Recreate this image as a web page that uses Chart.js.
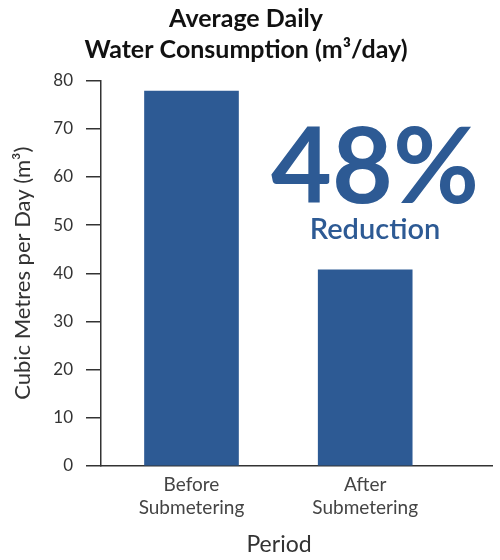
<!DOCTYPE html>
<html>
<head>
<meta charset="utf-8">
<script src="https://cdn.jsdelivr.net/npm/chart.js@4"></script>
<style>
  body { margin: 0; background: #fff; }
</style>
</head>
<body>
<canvas id="waterChart" width="500" height="560"></canvas>
<script>
const periods = [['Before', 'Submetering'], ['After', 'Submetering']];
const consumption = [77.8, 40.7];
const yTicks = [0, 10, 20, 30, 40, 50, 60, 70, 80];
const reductionText = '48%';
const reductionLabel = 'Reduction';
const xTitle = 'Period';

const barBlue = '#2d5a94';
const axisGrey = '#333';

// big callout text on the right + the x axis title (sits left of the axis centre)
const calloutPlugin = {
    id: 'callout',
    afterDraw(chart) {
        const ctx = chart.ctx;
        const area = chart.chartArea;
        const cx = area.left + 274;
        ctx.save();
        ctx.fillStyle = barBlue;
        ctx.textAlign = 'center';
        ctx.textBaseline = 'alphabetic';
        ctx.font = 'bold 105px Lato';
        ctx.fillText(reductionText, cx, area.top + 122);
        ctx.font = '600 29px Lato';
        ctx.fillText(reductionLabel, cx, area.top + 158);
        ctx.fillStyle = '#333';
        ctx.font = '23px Lato';
        ctx.fillText(xTitle, area.left + 178, area.bottom + 86);
        ctx.restore();
    }
};

new Chart(document.getElementById('waterChart'), {
    type: 'bar',
    data: {
        datasets: [{
            data: consumption.map((v, i) => ({ x: i, y: v })),
            backgroundColor: barBlue,
            barThickness: 94
        }]
    },
    plugins: [calloutPlugin],
    options: {
        responsive: false,
        animation: false,
        layout: { padding: { left: 0, right: 8, top: 0, bottom: 0 } },
        plugins: {
            legend: { display: false },
            tooltip: { enabled: false },
            title: {
                display: true,
                text: ['Average Daily', 'Water Consumption (m³/day)'],
                color: '#111',
                font: { family: 'Lato', size: 25, weight: 'bold', lineHeight: 1.23 },
                padding: { top: 4, bottom: 15 }
            }
        },
        scales: {
            x: {
                type: 'linear',
                offset: false,
                min: -0.521,
                max: 1.73,
                afterBuildTicks: s => { s.ticks = periods.map((p, i) => ({ value: i })); },
                afterFit: s => { s.height = 94; },
                ticks: {
                    callback: v => periods[v],
                    color: '#444',
                    padding: 8,
                    font: { family: 'Lato', size: 19, lineHeight: 1.18 },
                    maxRotation: 0
                },
                grid: { display: false, drawTicks: false },
                border: { display: true, color: axisGrey, width: 1.5 }
            },
            y: {
                min: 0,
                max: 80,
                afterBuildTicks: s => { s.ticks = yTicks.map(v => ({ value: v })); },
                afterFit: s => { s.width = 101; },
                ticks: {
                    color: '#333',
                    padding: 13,
                    font: { family: 'Lato', size: 17 }
                },
                grid: { drawOnChartArea: false, drawTicks: true, tickLength: 15, color: axisGrey, lineWidth: 1.5 },
                border: { display: true, color: axisGrey, width: 1.5 },
                title: {
                    display: true,
                    text: 'Cubic Metres per Day (m³)',
                    color: '#333',
                    font: { family: 'Lato', size: 22, lineHeight: 1.1 },
                    padding: { top: 11, bottom: 0 }
                }
            }
        }
    }
});
</script>
</body>
</html>
